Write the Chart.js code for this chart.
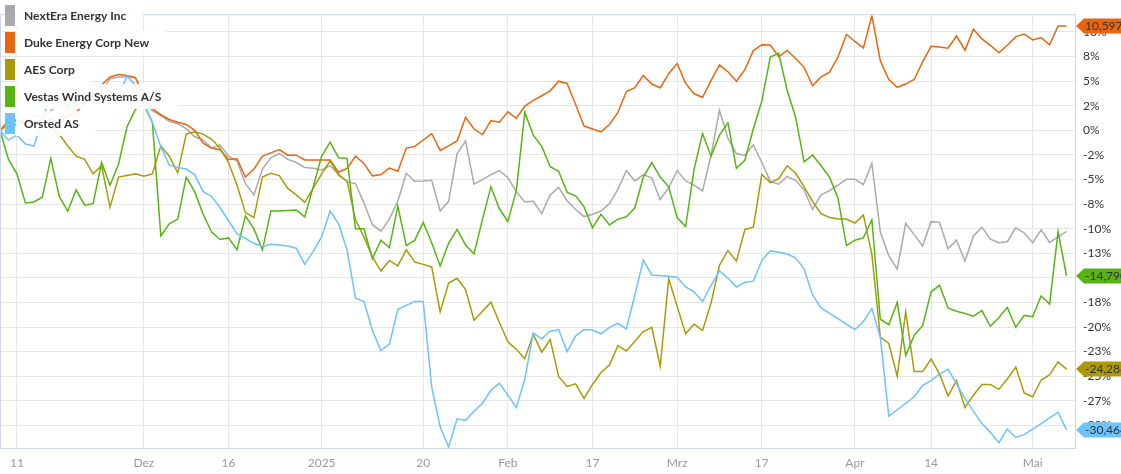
<!DOCTYPE html>
<html lang="de">
<head>
<meta charset="UTF-8">
<title>Performance Vergleich</title>
<script src="https://cdn.jsdelivr.net/npm/chart.js"></script>
<style>
  html, body { margin: 0; padding: 0; background: #fff; }
  #wrap { width: 1121px; height: 474px; }
</style>
</head>
<body>
<div id="wrap"><canvas id="perfChart" width="1121" height="474"></canvas></div>
<script>
// trading days from 7 Nov 2024 to 8 May 2025 (one spare slot at the right edge)
const dayCount = 128;
const xTickPos  = [2, 17, 27, 38, 50, 60, 70, 80, 90, 101, 110, 122];
const xTickText = ['11', 'Dez', '16', '2025', '20', 'Feb', '17', 'Mrz', '17', 'Apr', '14', 'Mai'];
const xTickMajor = [false, true, false, true, false, true, false, true, false, true, false, true];

const yTickValues = [-30, -27.5, -25, -22.5, -20, -17.5, -15, -12.5, -10, -7.5, -5, -2.5, 0, 2.5, 5, 7.5, 10];
const yTickLabels = ['-30%', '-27%', '-25%', '-23%', '-20%', '-18%', '-15%', '-13%', '-10%', '-8%', '-5%', '-2%', '0%', '2%', '5%', '8%', '10%'];

const seriesNames = ['NextEra Energy Inc', 'Duke Energy Corp New', 'AES Corp', 'Vestas Wind Systems A/S', 'Orsted AS'];
const seriesColors = ['#aaaaaa', '#e9660f', '#aa9a08', '#58b414', '#6cc3fd'];
const showBadge = [false, true, true, true, true];

// performance in %
const nextera = [0, 0.5, 1.0, 0.6, 1.5, 1.2, 2.0, 2.6, 2.2, 3.0, 3.4, 4.2, 4.0, 5.25, 5.42, 5.42, 5.35, 3.12, 2.0, 1.5,
  0.9, 0.66, 0.16, -0.66, -0.99, -1.81, -1.48, -2.63, -3.12, -5.42, -6.57, -3.94, -2.79, -2.36, -2.96, -3.28, -3.78, -3.87, -4.04, -3.61,
  -4.43, -5.25, -5.42, -7.39, -9.6, -10.25, -9.03, -7.22, -4.37, -5.19, -5.15, -5.09, -8.21, -7.22, -2.40, -1.08, -5.48, -5.02, -4.50, -4.10,
  -4.83, -6.24, -7.29, -7.22, -8.47, -6.57, -5.81, -7.16, -8.05, -8.77, -8.54, -8.21, -7.46, -5.98, -4.10, -5.15, -4.50, -4.86, -7.06, -5.84,
  -4.10, -5.15, -5.58, -6.17, -2.56, 2.04, -0.82, -2.36, -2.56, -1.48, -3.28, -5.19, -5.48, -4.70, -5.09, -6.08, -8.05, -6.57, -6.14, -5.58,
  -4.99, -4.99, -5.52, -3.38, -10.34, -12.74, -14.12, -9.46, -10.61, -11.76, -9.29, -9.36, -12.05, -11.17, -13.30, -10.74, -9.85, -11.07, -11.43, -11.33,
  -9.92, -10.44, -11.43, -10.12, -11.40, -10.84, -10.28];
const duke = [0, 0.8, 1.1, 0.6, 1.0, 0.5, 1.2, 0.7, 1.4, 1.8, 2.8, 3.6, 4.6, 5.42, 5.68, 5.58, 5.35, 3.61, 2.2, 1.6,
  1.1, 0.82, 0.59, 0.0, -1.31, -1.81, -1.97, -2.96, -2.89, -4.76, -3.94, -2.63, -2.30, -1.97, -2.53, -2.53, -3.02, -3.02, -3.02, -3.02,
  -4.27, -3.87, -2.63, -3.38, -4.63, -4.50, -3.84, -4.17, -1.81, -1.64, -0.99, -0.33, -2.04, -1.58, -1.08, 1.31, 0.13, -0.43, 0.99, 0.82,
  1.87, 1.21, 2.46, 3.05, 3.51, 4.01, 4.99, 4.76, 2.63, 0.43, 0.13, -0.16, 0.59, 1.81, 3.94, 4.33, 5.58, 4.70, 4.33, 5.75,
  6.80, 4.76, 3.71, 3.36, 5.05, 6.65, 5.95, 4.99, 6.17, 8.11, 8.70, 8.67, 7.49, 8.11, 7.29, 6.40, 4.53, 5.42, 5.91, 7.45,
  9.75, 9.03, 8.37, 11.66, 7.06, 5.16, 4.37, 4.70, 5.16, 6.96, 8.54, 8.47, 8.34, 9.59, 8.14, 10.28, 9.29, 8.64, 7.88, 8.64,
  9.52, 9.79, 9.19, 9.42, 8.70, 10.61, 10.597];
const aes = [0, 1.0, 0.5, 1.2, 0.7, 1.1, 0.3, -0.4, -1.6, -2.63, -2.96, -4.43, -3.61, -7.81, -4.76, -4.60, -4.43, -4.66, -4.43, -1.58,
  -2.63, -4.33, -0.39, -0.16, -0.39, -0.92, -1.81, -3.28, -5.58, -8.37, -8.87, -4.76, -4.37, -4.60, -5.91, -6.57, -7.32, -5.91, -4.43, -3.12,
  -4.60, -5.15, -9.10, -10.84, -12.9, -14.29, -13.23, -13.79, -12.15, -13.40, -13.63, -13.89, -18.46, -15.53, -15.04, -16.19, -19.31, -18.39, -17.47, -19.54,
  -21.51, -22.27, -23.22, -20.76, -22.56, -21.28, -25.05, -26.04, -25.78, -27.26, -25.84, -24.63, -23.87, -21.90, -22.43, -21.45, -20.46, -20.03, -23.97, -15.10,
  -17.90, -20.69, -19.70, -20.36, -17.57, -13.72, -12.22, -13.30, -10.08, -9.85, -4.50, -5.32, -4.93, -3.61, -4.37, -5.75, -7.22, -8.47, -8.87, -9.03,
  -9.03, -9.43, -8.60, -12.6, -21.02, -21.67, -25.02, -18.46, -24.53, -24.53, -23.25, -24.79, -27.0, -25.45, -28.18, -26.93, -25.84, -25.84, -26.34, -25.29,
  -24.07, -26.70, -27.09, -25.39, -24.86, -23.55, -24.288];
const vestas = [0, -2.96, -4.43, -7.39, -7.29, -6.80, -2.86, -6.73, -8.21, -6.08, -7.62, -7.46, -3.28, -5.58, -3.45, 0.33, 2.13, 2.6, 0.8, -10.74,
  -9.52, -9.03, -4.76, -6.24, -8.54, -10.34, -11.10, -10.94, -12.15, -8.70, -10.02, -12.15, -8.21, -8.21, -8.15, -8.11, -8.80, -5.75, -2.63, -1.21,
  -2.79, -2.86, -10.02, -10.02, -13.04, -11.17, -11.92, -7.72, -11.72, -11.17, -9.36, -11.43, -13.79, -11.49, -10.08, -11.66, -12.58, -9.03, -5.75, -7.98,
  -9.26, -6.14, 1.81, -0.49, -1.64, -3.71, -4.17, -6.31, -6.67, -7.78, -9.92, -8.54, -9.62, -9.03, -8.80, -7.88, -4.76, -3.28, -4.76, -5.75,
  -8.87, -9.79, -3.94, -0.33, -2.63, -0.49, 0.76, -3.87, -3.05, 0.16, 2.96, 7.45, 7.82, 4.04, 1.31, -3.22, -2.53, -3.61, -4.76, -6.90,
  -11.72, -11.17, -10.94, -9.10, -19.21, -19.77, -17.50, -22.89, -20.85, -19.87, -16.42, -15.76, -18.06, -18.39, -18.62, -18.89, -18.33, -19.93, -19.05, -18.00,
  -20.03, -18.82, -18.95, -16.85, -17.67, -10.3, -14.790];
const orsted = [0, -1.0, -0.5, -1.4, -1.6, 1.0, 3.7, 3.3, 2.5, 3.5, 3.0, 3.8, 4.4, 3.9, 3.5, 5.5, 4.6, 2.7, 0.8, -1.64,
  -3.55, -3.78, -3.94, -4.50, -6.24, -6.73, -7.88, -9.20, -10.51, -11.00, -11.49, -11.82, -11.59, -11.66, -11.76, -11.99, -13.63, -12.32, -10.84, -8.21,
  -9.52, -12.15, -17.08, -17.41, -20.36, -22.40, -21.74, -18.23, -17.80, -17.41, -17.41, -26.11, -30.15, -32.19, -29.33, -29.49, -28.57, -27.75, -26.44, -25.71,
  -26.93, -28.18, -25.29, -20.62, -21.21, -20.43, -20.26, -22.50, -20.92, -20.26, -20.30, -20.69, -20.03, -19.64, -20.20, -16.75, -13.20, -14.71, -14.78, -14.84,
  -14.94, -15.93, -16.42, -17.41, -15.76, -14.29, -15.04, -15.93, -15.44, -15.34, -13.23, -12.25, -12.41, -12.58, -12.97, -14.12, -16.75, -18.06, -18.62, -19.14,
  -19.70, -20.26, -19.44, -18.13, -21.02, -29.06, -28.41, -27.75, -27.09, -25.94, -25.45, -24.79, -24.30, -25.78, -27.26, -28.57, -29.82, -30.71, -31.76, -30.38,
  -31.20, -30.94, -30.38, -29.82, -29.23, -28.67, -30.464];

const seriesData = [nextera, duke, aes, vestas, orsted];
const days = Array.from({ length: dayCount }, (_, i) => i);

const FONT = 'Lato, "Open Sans", sans-serif';

function fmtDe(v) {
    return v.toFixed(3).replace('.', ',');
}

const overlayPlugin = {
    id: 'overlay',
    afterDraw(chart) {
        const ctx = chart.ctx;
        const area = chart.chartArea;
        const yScale = chart.scales.y;
        ctx.save();

        // plot frame
        ctx.strokeStyle = '#ccd6eb';
        ctx.lineWidth = 1;
        ctx.strokeRect(area.left + 0.5, area.top - 0.5, area.right - area.left, area.bottom - area.top + 1);

        // legend in the top left corner
        ctx.font = 'bold 12px ' + FONT;
        ctx.textBaseline = 'middle';
        ctx.textAlign = 'left';
        seriesNames.forEach((name, i) => {
            const top = 4 + i * 27;
            const w = ctx.measureText(name).width;
            ctx.fillStyle = 'rgba(255,255,255,0.9)';
            ctx.fillRect(16, top - 1, w + 25, 25);
            ctx.fillStyle = seriesColors[i];
            ctx.fillRect(5, top + 1, 10, 21);
            ctx.fillStyle = '#333333';
            ctx.fillText(name, 24, top + 12.5);
        });

        // last value badges on the right axis
        ctx.font = '12px ' + FONT;
        seriesData.forEach((arr, i) => {
            if (!showBadge[i]) return;
            const v = arr[arr.length - 1];
            const cy = Math.round(yScale.getPixelForValue(v));
            const x0 = area.right + 1;
            ctx.fillStyle = seriesColors[i];
            ctx.beginPath();
            ctx.moveTo(x0, cy);
            ctx.lineTo(x0 + 8, cy - 7.5);
            ctx.lineTo(chart.width + 2, cy - 7.5);
            ctx.lineTo(chart.width + 2, cy + 7.5);
            ctx.lineTo(x0 + 8, cy + 7.5);
            ctx.closePath();
            ctx.fill();
            ctx.fillStyle = '#333333';
            ctx.fillText(fmtDe(v), x0 + 9, cy + 0.5);
        });
        ctx.restore();
    }
};

new Chart(document.getElementById('perfChart'), {
    type: 'line',
    data: {
        labels: days,
        datasets: seriesNames.map((name, i) => ({
            label: name,
            data: seriesData[i],
            borderColor: seriesColors[i],
            backgroundColor: seriesColors[i],
            borderWidth: 1.5,
            pointRadius: 0,
            tension: 0,
            fill: false,
            order: seriesNames.length - i
        }))
    },
    options: {
        responsive: false,
        animation: false,
        devicePixelRatio: 1,
        layout: { padding: { top: 1, left: 0, right: 0, bottom: 0 } },
        plugins: {
            legend: { display: false },
            tooltip: { enabled: false }
        },
        scales: {
            x: {
                type: 'category',
                offset: false,
                afterFit: s => { s.height = 26; },
                border: { display: false },
                grid: { color: '#e6e6e6', drawTicks: false },
                ticks: {
                    autoSkip: false,
                    maxRotation: 0,
                    padding: 8,
                    callback: (v, i) => {
                        const k = xTickPos.indexOf(i);
                        return k < 0 ? null : xTickText[k];
                    },
                    color: c => xTickMajor[xTickPos.indexOf(c.index)] ? '#111111' : '#999999',
                    font: c => ({
                        family: FONT,
                        size: 12,
                        weight: xTickMajor[xTickPos.indexOf(c.index)] ? 'bold' : 'normal'
                    })
                }
            },
            y: {
                position: 'right',
                min: -32.3,
                max: 11.7,
                afterBuildTicks: s => { s.ticks = yTickValues.map(v => ({ value: v })); },
                afterFit: s => { s.width = 46; },
                border: { display: false },
                grid: { color: '#e6e6e6', drawTicks: false },
                ticks: {
                    padding: 8,
                    color: '#333333',
                    font: { family: FONT, size: 12 },
                    callback: v => yTickLabels[yTickValues.indexOf(v)]
                }
            }
        }
    },
    plugins: [overlayPlugin]
});
</script>
</body>
</html>
